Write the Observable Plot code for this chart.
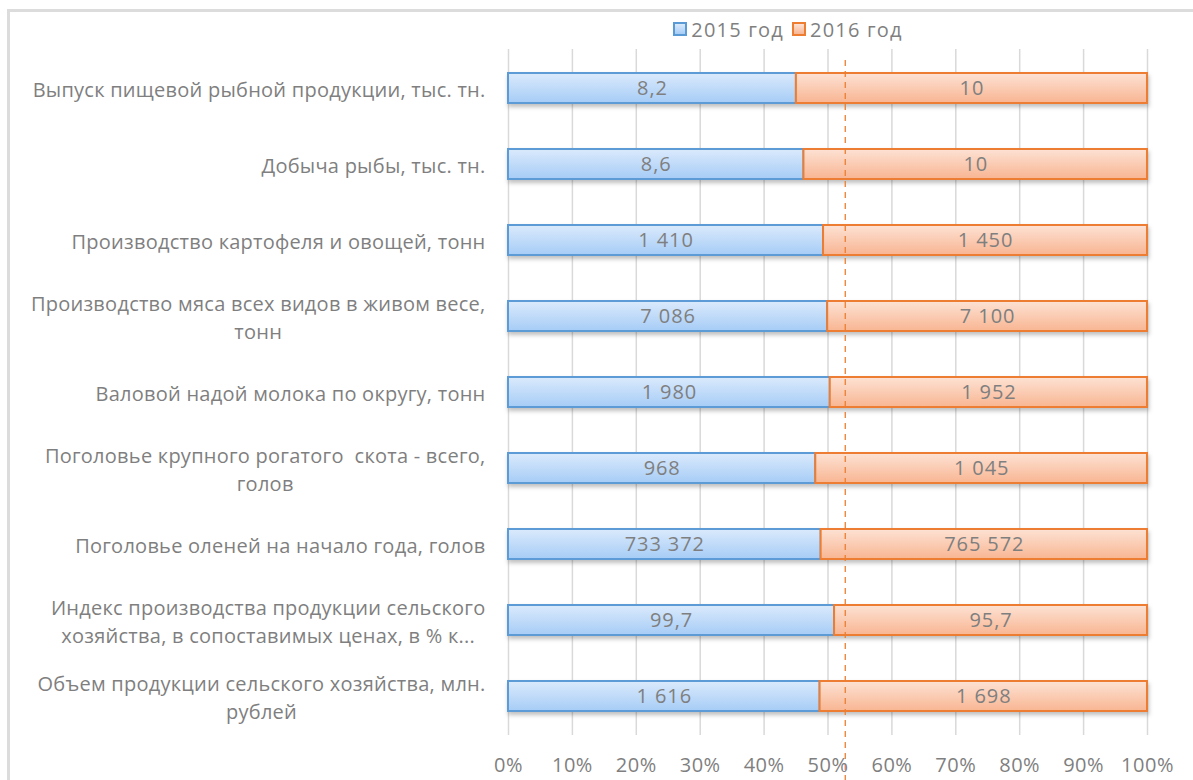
<!DOCTYPE html>
<html>
<head>
<meta charset="utf-8">
<script src="https://cdn.jsdelivr.net/npm/d3@7"></script>
<script src="https://cdn.jsdelivr.net/npm/@observablehq/plot@0.6"></script>
<style>
  body { margin: 0; background: #fff; font-family: "Open Sans", sans-serif; }
  #wrap { position: relative; width: 1193px; height: 780px; overflow: hidden; }
  #border { position: absolute; left: 7px; top: 9px; width: 1200px; height: 800px;
            border-left: 3px solid #dcdcdc; border-top: 3px solid #dcdcdc; }
  #legend { position: absolute; top: 16px; left: 0; width: 1576px; text-align: center;
            font-size: 20px; letter-spacing: 1.2px; color: #7f7f7f; white-space: nowrap; }
  #legend span.item { margin: 0 4px; }
  #legend i { display: inline-block; width: 10px; height: 10px; margin-right: 4px; vertical-align: 1px; }
  #chart { position: absolute; top: 45px; left: 0; }
</style>
</head>
<body>
<div id="wrap">
  <div id="border"></div>
  <div id="legend"></div>
  <div id="chart"></div>
</div>
<script>
const categories = [
  "Выпуск пищевой рыбной продукции, тыс. тн.",
  "Добыча рыбы, тыс. тн.",
  "Производство картофеля и овощей, тонн",
  "Производство мяса всех видов в живом весе,\nтонн",
  "Валовой надой молока по округу, тонн",
  "Поголовье крупного рогатого  скота - всего,\nголов",
  "Поголовье оленей на начало года, голов",
  "Индекс производства продукции сельского\nхозяйства, в сопоставимых ценах, в % к...",
  "Объем продукции сельского хозяйства, млн.\nрублей"
];
const series = ["2015 год", "2016 год"];
const values2015 = [8.2, 8.6, 1410, 7086, 1980, 968, 733372, 99.7, 1616];
const values2016 = [10, 10, 1450, 7100, 1952, 1045, 765572, 95.7, 1698];
const xTicks = [0, 0.1, 0.2, 0.3, 0.4, 0.5, 0.6, 0.7, 0.8, 0.9, 1];
const markerValue = 0.527;

const ru = d3.formatLocale({decimal: ",", thousands: "\u00a0", grouping: [3], currency: ["", ""]});
const fmt = ru.format(",");

const data = [];
categories.forEach((c, i) => {
  data.push({cat: c, year: series[0], value: values2015[i]});
  data.push({cat: c, year: series[1], value: values2016[i]});
});

const gradIds = {"2015 год": "gBlue", "2016 год": "gOrange"};
const strokes = {"2015 год": "#5b9bd5", "2016 год": "#ed7d31"};

const defs = () => {
  const d = d3.create("svg:defs");
  const g1 = d.append("linearGradient").attr("id", "gBlue").attr("x1", 0).attr("y1", 0).attr("x2", 0).attr("y2", 1);
  g1.append("stop").attr("offset", "0%").attr("stop-color", "#dbeafc");
  g1.append("stop").attr("offset", "100%").attr("stop-color", "#a6ccf6");
  const g2 = d.append("linearGradient").attr("id", "gOrange").attr("x1", 0).attr("y1", 0).attr("x2", 0).attr("y2", 1);
  g2.append("stop").attr("offset", "0%").attr("stop-color", "#fde2d4");
  g2.append("stop").attr("offset", "100%").attr("stop-color", "#f8b592");
  const f = d.append("filter").attr("id", "shadow").attr("x", "-5%").attr("y", "-30%").attr("width", "110%").attr("height", "170%");
  f.append("feDropShadow").attr("dx", 1).attr("dy", 3).attr("stdDeviation", 2).attr("flood-color", "#000").attr("flood-opacity", 0.25);
  return d.node();
};

const plot = Plot.plot({
  width: 1193,
  height: 735,
  marginLeft: 508,
  marginRight: 46,
  marginTop: 4,
  marginBottom: 45,
  style: {fontFamily: "Open Sans, sans-serif", fontSize: "20px", letterSpacing: "0.25px", color: "#7f7f7f", background: "transparent", overflow: "visible"},
  x: {domain: [0, 1], label: null},
  y: {domain: categories, paddingInner: 0.6, paddingOuter: 0.3, label: null},
  marks: [
    defs,
    Plot.gridX(xTicks, {stroke: "#d9d9d9", strokeOpacity: 1, strokeWidth: 1.5}),
    Plot.barX(data, Plot.stackX({
      offset: "normalize", x: "value", y: "cat", z: "year", order: series,
      fill: d => `url(#${gradIds[d.year]})`,
      stroke: d => strokes[d.year], strokeWidth: 2
    })),
    Plot.text(data, Plot.stackX({
      offset: "normalize", x: "value", y: "cat", z: "year", order: series,
      text: d => fmt(d.value), fill: "#7f7f7f", fontSize: 20
    })),
    Plot.ruleX([markerValue], {stroke: "#ed7d31", strokeWidth: 1.3, strokeDasharray: "6,5", insetTop: 11, insetBottom: -50}),
    Plot.axisX({ticks: xTicks, tickFormat: d => Math.round(d * 100) + "%", tickSize: 0, tickPadding: 22, label: null, fill: "#7f7f7f"}),
    Plot.axisY({tickSize: 0, tickPadding: 23, label: null, lineHeight: 1.4, fill: "#7f7f7f", textAnchor: "end"})
  ]
});
document.getElementById("chart").append(plot);

// bar shadow
plot.querySelectorAll('g[aria-label="bar"]').forEach(g => g.setAttribute("filter", "url(#shadow)"));
// value labels a bit more spaced, ticks slightly spaced
plot.querySelectorAll('g[aria-label="text"]').forEach(g => g.style.letterSpacing = "0.9px");
plot.querySelectorAll('g[aria-label="x-axis tick label"]').forEach(g => g.style.letterSpacing = "0.5px");

// center multi-line y labels on their widest line, right edge fixed
plot.querySelectorAll('g[aria-label="y-axis tick label"] text').forEach(t => {
  const spans = t.querySelectorAll("tspan");
  if (spans.length < 2) return;
  let maxW = 0;
  spans.forEach(s => { maxW = Math.max(maxW, s.getComputedTextLength()); });
  t.setAttribute("text-anchor", "middle");
  const tr = t.getAttribute("transform") || "";
  t.setAttribute("transform", tr + ` translate(${-maxW / 2},0)`);
});

// legend
const legend = document.getElementById("legend");
const fills = {"2015 год": "linear-gradient(#dbeafc,#a6ccf6)", "2016 год": "linear-gradient(#fde2d4,#f8b592)"};
series.forEach(s => {
  const it = document.createElement("span");
  it.className = "item";
  const sw = document.createElement("i");
  sw.style.background = fills[s];
  sw.style.border = `2px solid ${strokes[s]}`;
  it.append(sw, document.createTextNode(s));
  legend.append(it);
});
</script>
</body>
</html>
